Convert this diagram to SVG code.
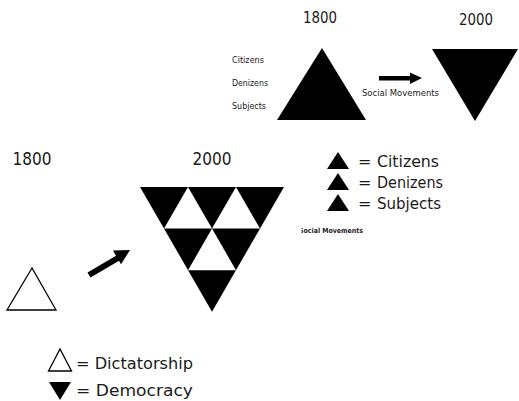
<svg xmlns="http://www.w3.org/2000/svg" width="519" height="401" viewBox="0 0 519 401">
<defs>
<style>
.t{font-family:"DejaVu Sans","Liberation Sans",sans-serif;fill:#1a1a1a}
.blk{fill:#000}
.wht{fill:#fff}
.out{fill:#fff;stroke:#000;stroke-width:1.3}
</style>
<clipPath id="clipSM"><rect x="301.5" y="220" width="80" height="20"/></clipPath>
</defs>
<rect width="519" height="401" fill="#fff"/>

<g id="top-labels">
<text class="t" x="320" y="23" font-size="15" text-anchor="middle" textLength="34" lengthAdjust="spacingAndGlyphs">1800</text>
<text class="t" x="476" y="25" font-size="15" text-anchor="middle" textLength="34" lengthAdjust="spacingAndGlyphs">2000</text>
<text class="t" x="232" y="63" font-size="8" textLength="32" lengthAdjust="spacingAndGlyphs">Citizens</text>
<text class="t" x="232" y="86" font-size="8" textLength="36" lengthAdjust="spacingAndGlyphs">Denizens</text>
<text class="t" x="232" y="109" font-size="8" textLength="34" lengthAdjust="spacingAndGlyphs">Subjects</text>
</g>

<g id="top-1800-triangle">
<polygon class="blk" points="322,48 277,120 366,120"/>
</g>

<g id="top-2000-triangle">
<polygon class="blk" points="432,49 518,49 475,121"/>
</g>

<g id="connectors">
<rect class="blk" x="379" y="76" width="32" height="4.5"/>
<polygon class="blk" points="410,72.5 422,78 410,84"/>
<line x1="89" y1="275" x2="118" y2="258" stroke="#000" stroke-width="6"/>
<polygon class="blk" points="130,250 113,250.5 121,264.3"/>
</g>

<g id="top-social-movements">
<text class="t" x="362" y="96" font-size="8" textLength="77" lengthAdjust="spacingAndGlyphs">Social Movements</text>
</g>

<g id="bottom-labels">
<text class="t" x="32" y="165" font-size="17" text-anchor="middle" textLength="39" lengthAdjust="spacingAndGlyphs">1800</text>
<text class="t" x="212" y="165" font-size="17" text-anchor="middle" textLength="39" lengthAdjust="spacingAndGlyphs">2000</text>
</g>

<g id="bottom-1800-triangle">
<polygon class="out" points="32,268 7,310 56,310"/>
</g>

<g id="bottom-2000-triangle">
<polygon class="blk" points="140,187 284,187 212,311.7"/>
<polygon class="wht" points="188,187 164,228.6 212,228.6"/>
<polygon class="wht" points="236,187 212,228.6 260,228.6"/>
<polygon class="wht" points="212,228.6 188,270.2 236,270.2"/>
</g>

<g id="legend-right">
<polygon class="blk" points="338,152 327,169 349,169"/>
<text class="t" x="358" y="167" font-size="16">=</text>
<text class="t" x="377" y="167" font-size="16" textLength="62" lengthAdjust="spacingAndGlyphs">Citizens</text>
<polygon class="blk" points="338,173 327,190 349,190"/>
<text class="t" x="358" y="188" font-size="16">=</text>
<text class="t" x="377" y="188" font-size="16" textLength="66" lengthAdjust="spacingAndGlyphs">Denizens</text>
<polygon class="blk" points="338,194 327,211 349,211"/>
<text class="t" x="358" y="209" font-size="16">=</text>
<text class="t" x="377" y="209" font-size="16" textLength="64" lengthAdjust="spacingAndGlyphs">Subjects</text>
</g>

<g id="clipped-social-movements">
<text class="t" x="299" y="233" font-size="7" font-weight="bold" textLength="64" lengthAdjust="spacingAndGlyphs" clip-path="url(#clipSM)">Social Movements</text>
</g>

<g id="legend-bottom">
<polygon class="out" points="60,349 48.5,371 71.5,371"/>
<text class="t" x="76" y="369" font-size="16" textLength="117" lengthAdjust="spacingAndGlyphs">= Dictatorship</text>
<polygon class="blk" points="49,382 71,382 60,400"/>
<text class="t" x="76" y="396" font-size="16" textLength="117" lengthAdjust="spacingAndGlyphs">= Democracy</text>
</g>
</svg>
